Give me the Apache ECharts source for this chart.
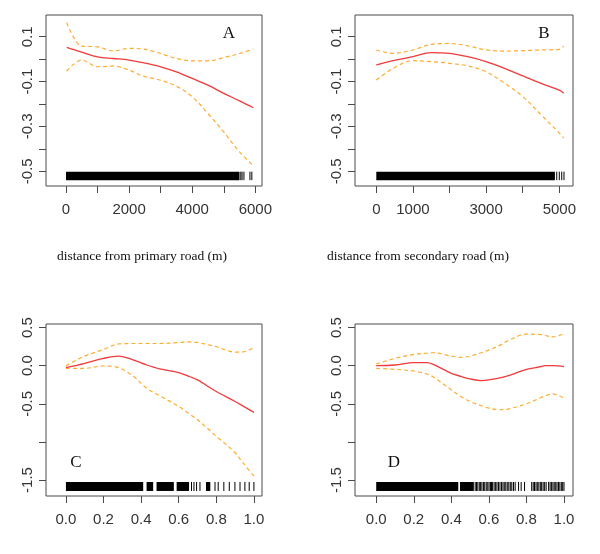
<!DOCTYPE html>
<html>
<head>
<meta charset="utf-8">
<script src="https://cdn.jsdelivr.net/npm/echarts@6/dist/echarts.min.js"></script>
<style>html,body{margin:0;padding:0;background:#fff;}#c{width:600px;height:554px;}</style>
</head>
<body>
<div id="c"></div>
<script>
// ---------- Panel A: distance from primary road ----------
const xA   = [20, 253, 500, 1000, 1500, 2000, 2450, 3000, 3500, 4000, 4500, 5000, 5500, 5940];
const fitA = [0.052, 0.042, 0.031, 0.010, 0.003, -0.004, -0.016, -0.034, -0.057, -0.086, -0.116, -0.153, -0.186, -0.217];
const upA  = [0.162, 0.095, 0.058, 0.055, 0.037, 0.048, 0.045, 0.025, 0.003, -0.008, -0.008, 0.007, 0.025, 0.045];
const loA  = [-0.054, -0.022, -0.004, -0.034, -0.031, -0.049, -0.076, -0.094, -0.121, -0.168, -0.243, -0.325, -0.414, -0.476];
const rugSpansA = [[0, 5500]];
const rugTicksA = [5540, 5580, 5640, 5830, 5890];

// ---------- Panel B: distance from secondary road ----------
const xB   = [0, 460, 1000, 1500, 2000, 2500, 3000, 3500, 4000, 4500, 5000, 5120];
const fitB = [-0.026, -0.007, 0.011, 0.029, 0.026, 0.011, -0.011, -0.041, -0.075, -0.108, -0.138, -0.152];
const upB  = [0.041, 0.026, 0.041, 0.066, 0.070, 0.059, 0.041, 0.036, 0.038, 0.041, 0.044, 0.058];
const loB  = [-0.093, -0.041, -0.007, -0.011, -0.019, -0.030, -0.056, -0.107, -0.167, -0.248, -0.330, -0.352];
const rugSpansB = [[0, 4880]];
const rugTicksB = [4930, 5000, 5066, 5128];

// ---------- Panel C ----------
const xC   = [0, 0.1, 0.2, 0.28, 0.36, 0.43, 0.5, 0.6, 0.66, 0.7, 0.8, 0.9, 0.94, 1.0];
const fitC = [-0.026, 0.030, 0.096, 0.126, 0.074, 0.009, -0.043, -0.091, -0.145, -0.187, -0.339, -0.470, -0.527, -0.613];
const upC  = [0.0, 0.126, 0.213, 0.285, 0.291, 0.291, 0.291, 0.304, 0.313, 0.304, 0.248, 0.178, 0.18, 0.239];
const loC  = [-0.035, -0.035, -0.004, -0.026, -0.143, -0.296, -0.396, -0.535, -0.64, -0.709, -0.926, -1.143, -1.27, -1.448];
const rugSpansC = [[0, 0.411], [0.429, 0.464], [0.482, 0.574], [0.589, 0.655], [0.745, 0.768]];
const rugTicksC = [0.668, 0.681, 0.695, 0.713, 0.793, 0.81, 0.84, 0.869, 0.899, 0.926, 0.952, 0.975, 1.0];

// ---------- Panel D ----------
const xD   = [0, 0.1, 0.2, 0.27, 0.3, 0.4, 0.45, 0.5, 0.56, 0.6, 0.66, 0.7, 0.8, 0.87, 0.9, 0.94, 1.0];
const fitD = [0.0, 0.009, 0.039, 0.039, 0.02, -0.1, -0.139, -0.174, -0.196, -0.187, -0.161, -0.135, -0.048, -0.017, 0.0, 0.0, -0.013];
const upD  = [0.022, 0.096, 0.148, 0.165, 0.170, 0.126, 0.109, 0.126, 0.17, 0.204, 0.27, 0.326, 0.413, 0.409, 0.396, 0.378, 0.422];
const loD  = [-0.035, -0.048, -0.07, -0.109, -0.143, -0.317, -0.404, -0.470, -0.526, -0.557, -0.578, -0.570, -0.5, -0.426, -0.396, -0.37, -0.426];
const rugSpansD = [[0, 0.437], [0.446, 0.52]];
const rugTicksD = [0.527, 0.534, 0.541, 0.549, 0.556, 0.563, 0.571, 0.578, 0.586, 0.594, 0.601, 0.609, 0.614, 0.62, 0.628, 0.636, 0.643, 0.651, 0.659, 0.667, 0.675, 0.682, 0.69, 0.698, 0.706, 0.714, 0.722, 0.731, 0.74, 0.758, 0.772, 0.79, 0.828, 0.836, 0.843, 0.851, 0.858, 0.866, 0.874, 0.881, 0.889, 0.897, 0.905, 0.918, 0.926, 0.933, 0.941, 0.948, 0.956, 0.963, 0.971, 0.978, 0.986, 0.993, 1.0];

// ---------- Tick values and labels ----------
const xTicksA = [0, 1000, 2000, 3000, 4000, 5000, 6000];
const xLabelsA = [0, 2000, 4000, 6000];
const xTicksB = [0, 1000, 2000, 3000, 4000, 5000];
const xLabelsB = [0, 1000, 3000, 5000];
const xTicksCD = [0, 0.2, 0.4, 0.6, 0.8, 1.0];
const xLabelsCD = [0, 0.2, 0.4, 0.6, 0.8, 1.0];
const yTicksAB = [0.1, 0, -0.1, -0.2, -0.3, -0.4, -0.5];
const yLabelsAB = [0.1, -0.1, -0.3, -0.5];
const yTicksCD = [0.5, 0, -0.5, -1.0, -1.5];
const yLabelsCD = [0.5, 0, -0.5, -1.5];

const panelLetters = ['A', 'B', 'C', 'D'];
const axisTitles = ['distance from primary road (m)', 'distance from secondary road (m)'];

// ---------- styling / layout ----------
const RED = '#f23a3a', ORANGE = '#ffab2e', BOX = '#4a4a4a', TXT = '#333';
const grids = [
  {left: 46, top: 15, width: 216, height: 171},
  {left: 355, top: 15, width: 218, height: 171},
  {left: 46, top: 324, width: 216, height: 172},
  {left: 355, top: 324, width: 218, height: 172}
];
const xRanges = [[-634, 6212], [-582, 5374], [-0.106, 1.043], [-0.113, 1.048]];
const yRanges = [[-0.566, 0.197], [-0.566, 0.197], [-1.71, 0.547], [-1.71, 0.547]];
const rugBand = [[-0.502, -0.540], [-0.502, -0.540], [-1.526, -1.644], [-1.526, -1.644]];

const panels = [
  {x: xA, fit: fitA, up: upA, lo: loA, spans: rugSpansA, ticks: rugTicksA, xt: xTicksA, xl: xLabelsA, yt: yTicksAB, yl: yLabelsAB, xf: v => String(v), yf: v => v.toFixed(1)},
  {x: xB, fit: fitB, up: upB, lo: loB, spans: rugSpansB, ticks: rugTicksB, xt: xTicksB, xl: xLabelsB, yt: yTicksAB, yl: yLabelsAB, xf: v => String(v), yf: v => v.toFixed(1)},
  {x: xC, fit: fitC, up: upC, lo: loC, spans: rugSpansC, ticks: rugTicksC, xt: xTicksCD, xl: xLabelsCD, yt: yTicksCD, yl: yLabelsCD, xf: v => v.toFixed(1), yf: v => v.toFixed(1)},
  {x: xD, fit: fitD, up: upD, lo: loD, spans: rugSpansD, ticks: rugTicksD, xt: xTicksCD, xl: xLabelsCD, yt: yTicksCD, yl: yLabelsCD, xf: v => v.toFixed(1), yf: v => v.toFixed(1)}
];

const zip = (xs, ys) => xs.map((x, i) => [x, ys[i]]);

const option = {
  animation: false,
  backgroundColor: '#fff',
  grid: grids.map(g => Object.assign({show: true, borderColor: BOX, borderWidth: 1, backgroundColor: 'transparent'}, g)),
  xAxis: panels.map((p, i) => ({
    type: 'value', gridIndex: i, min: xRanges[i][0], max: xRanges[i][1],
    axisLine: {show: false, onZero: false},
    splitLine: {show: false},
    axisTick: {show: true, length: 7, inside: false, customValues: p.xt, lineStyle: {color: BOX, width: 1}},
    axisLabel: {show: true, customValues: p.xl, margin: 16, formatter: v => p.xf(v), fontFamily: 'Liberation Sans', fontSize: 15, color: TXT}
  })),
  yAxis: panels.map((p, i) => ({
    type: 'value', gridIndex: i, min: yRanges[i][0], max: yRanges[i][1],
    axisLine: {show: false, onZero: false},
    splitLine: {show: false},
    axisTick: {show: true, length: 7, inside: false, customValues: p.yt, lineStyle: {color: BOX, width: 1}},
    axisLabel: {show: true, customValues: p.yl, rotate: 90, margin: 11, formatter: v => p.yf(v), fontFamily: 'Liberation Sans', fontSize: 15, color: TXT}
  })),
  series: [],
  graphic: []
};

panels.forEach((p, i) => {
  const common = {type: 'line', xAxisIndex: i, yAxisIndex: i, showSymbol: false, symbol: 'none', smooth: 0.35, silent: true, z: 3};
  option.series.push(Object.assign({}, common, {data: zip(p.x, p.up), lineStyle: {color: ORANGE, width: 1.2, type: [4, 3]}}));
  option.series.push(Object.assign({}, common, {data: zip(p.x, p.lo), lineStyle: {color: ORANGE, width: 1.2, type: [4, 3]}}));
  option.series.push(Object.assign({}, common, {data: zip(p.x, p.fit), lineStyle: {color: RED, width: 1.3}, z: 4}));
  const band = rugBand[i];
  option.series.push({
    type: 'custom', xAxisIndex: i, yAxisIndex: i, silent: true, encode: {x: [0, 1]},
    data: p.spans,
    renderItem: (params, api) => {
      const a = api.coord([api.value(0), band[0]]);
      const b = api.coord([api.value(1), band[1]]);
      return {type: 'rect', shape: {x: a[0], y: a[1], width: Math.max(1, b[0] - a[0]), height: b[1] - a[1]}, style: {fill: '#000'}};
    }
  });
  option.series.push({
    type: 'custom', xAxisIndex: i, yAxisIndex: i, silent: true, encode: {x: 0},
    data: p.ticks.map(v => [v]),
    renderItem: (params, api) => {
      const a = api.coord([api.value(0), band[0]]);
      const b = api.coord([api.value(0), band[1]]);
      return {type: 'line', shape: {x1: a[0], y1: a[1], x2: b[0], y2: b[1]}, style: {stroke: '#000', lineWidth: 1}};
    }
  });
});

const letterPos = [[229, 34], [544, 34], [76, 463], [394, 463]];
panelLetters.forEach((t, i) => {
  option.graphic.push({type: 'text', x: letterPos[i][0], y: letterPos[i][1],
    style: {text: t, font: '17px "Liberation Serif"', fill: '#111', align: 'center', verticalAlign: 'middle'}});
});
const titlePos = [[142, 256], [418, 256]];
axisTitles.forEach((t, i) => {
  option.graphic.push({type: 'text', x: titlePos[i][0], y: titlePos[i][1],
    style: {text: t, font: '13.5px "Liberation Serif"', fill: '#111', align: 'center', verticalAlign: 'middle'}});
});

const chart = echarts.init(document.getElementById('c'), null, {renderer: 'canvas'});
chart.setOption(option);
</script>
</body>
</html>
